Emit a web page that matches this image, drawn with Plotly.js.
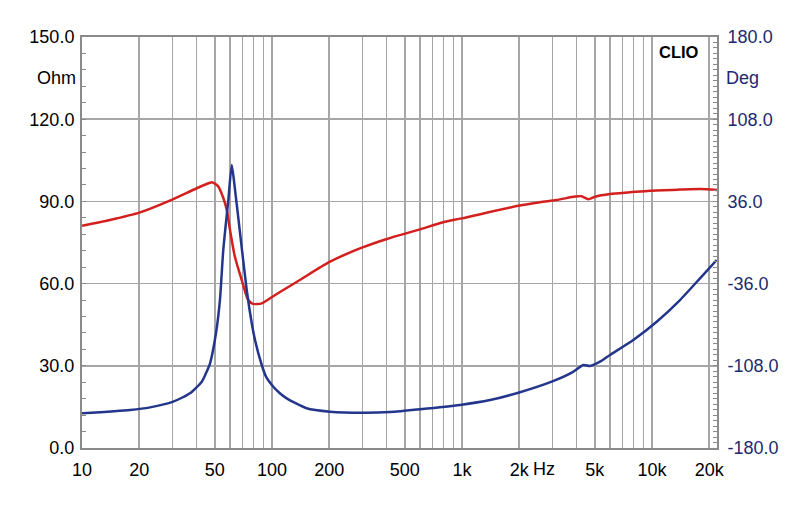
<!DOCTYPE html>
<html>
<head>
<meta charset="utf-8">
<script src="https://cdn.plot.ly/plotly-3.0.1.min.js"></script>
<style>html,body{margin:0;padding:0;background:#fff;}#chart{width:800px;height:506px;}</style>
</head>
<body>
<div id="chart"></div>
<script>
// Red curve (left axis, Ohm scale)
const redFreq = [10, 14, 20.2, 29, 40.2, 47.2, 48.2, 52, 55.2, 57.8, 60.1, 63.8, 69.3, 75, 79.4, 88.3, 100.5, 119.4, 140, 202, 297, 402, 601, 797, 996, 1979, 2574, 3150, 3933, 4250, 4624, 5012, 6012, 7656, 9750, 14000, 18000, 22000];
const redOhm  = [81.1, 83.2, 86.0, 90.3, 94.8, 96.8, 97.0, 95.6, 91.6, 86.9, 79.6, 69.8, 61.3, 54.0, 52.6, 52.8, 55.2, 58.4, 61.3, 68.0, 73.1, 76.3, 79.8, 82.4, 83.8, 88.4, 89.7, 90.5, 91.75, 91.9, 90.8, 91.7, 92.7, 93.3, 93.9, 94.3, 94.5, 94.2];

// Blue curve (right axis, Deg scale)
const blueFreq = [10, 17.9, 22.8, 30.2, 37, 42.7, 44.9, 47.2, 50.7, 53.2, 55.4, 58.9, 61.4, 63.9, 67.9, 73.6, 78.2, 81.4, 88.3, 93, 101.6, 110, 119.5, 152, 202, 302, 418, 601, 976, 1404, 1979, 2966, 3780, 4349, 4717, 5325, 6010, 7970, 10585, 14040, 17890, 21900];
const blueDeg  = [-149.6, -146.7, -144.4, -139.4, -132.1, -121.9, -114.6, -105.8, -79.5, -50.4, -6.6, 37.2, 67.9, 46.0, 8.3, -41.6, -70.5, -85.4, -107.3, -117.5, -126.3, -132.0, -136.5, -145.2, -148.2, -149.1, -148.5, -146.1, -142.3, -138.0, -131.6, -121.9, -114.0, -107.3, -108.2, -104.4, -98.5, -85.4, -69.4, -50.4, -31.4, -15.3];

// X grid / tick labels
const xTickVals = [10,20,30,40,50,60,70,80,90,100,200,300,400,500,600,700,800,900,1000,2000,3000,4000,5000,6000,7000,8000,9000,10000,20000];
const xTickText = ['10','20','','','50','','','','','100','200','','','500','','','','','1k','2k','','','5k','','','','','10k','20k'];

const yLeftTicks = [0, 30, 60, 90, 120, 150];
const yLeftText = ['0.0','30.0','60.0','90.0','120.0','150.0'];
const yRightTicks = [-180, -108, -36, 36, 108, 180];
const yRightText = ['-180.0','-108.0','-36.0','36.0','108.0','180.0'];

const FONT = 'Arial, "Liberation Sans", sans-serif';
const NAVY = '#1c2a6e';
const GRID = '#a6a6a6';
const AXIS = '#8a8a8a';

const traces = [
  {x: redFreq, y: redOhm, type: 'scatter', mode: 'lines', yaxis: 'y',
   line: {color: '#d41f1f', width: 2.5, shape: 'spline', smoothing: 0.7}, hoverinfo: 'skip'},
  {x: blueFreq, y: blueDeg, type: 'scatter', mode: 'lines', yaxis: 'y2',
   line: {color: '#23368c', width: 2.5, shape: 'spline', smoothing: 0.6}, hoverinfo: 'skip'}
];

const layout = {
  width: 800, height: 506,
  margin: {l: 82, r: 83, t: 37, b: 58},
  paper_bgcolor: '#ffffff', plot_bgcolor: '#ffffff',
  showlegend: false,
  font: {family: FONT, size: 18, color: '#000'},
  xaxis: {
    type: 'log', range: [1, 4.342],
    tickmode: 'array', tickvals: xTickVals, ticktext: xTickText,
    ticks: '', showgrid: true, gridcolor: GRID, gridwidth: 1.5,
    showline: true, linecolor: AXIS, linewidth: 2, mirror: true,
    ticklabelstandoff: 4,
    zeroline: false, tickfont: {family: FONT, size: 18, color: '#000'}
  },
  yaxis: {
    range: [0, 150], tickmode: 'array', tickvals: yLeftTicks, ticktext: yLeftText,
    ticks: 'inside', ticklen: 0, tickcolor: AXIS,
    minor: {dtick: 6, ticks: 'inside', ticklen: 4, tickcolor: AXIS, showgrid: false},
    showgrid: true, gridcolor: GRID, gridwidth: 1.5,
    showline: true, linecolor: AXIS, linewidth: 2,
    ticklabelstandoff: 2,
    zeroline: false, tickfont: {family: FONT, size: 18, color: '#000'}
  },
  yaxis2: {
    overlaying: 'y', side: 'right',
    range: [-180, 180], tickmode: 'array', tickvals: yRightTicks, ticktext: yRightText,
    ticks: 'inside', ticklen: 0, tickcolor: AXIS,
    minor: {dtick: 4.8, tick0: -180, ticks: 'inside', ticklen: 4, tickcolor: AXIS, showgrid: false},
    showgrid: false, showline: true, linecolor: AXIS, linewidth: 2,
    ticklabelstandoff: 5,
    zeroline: false, tickfont: {family: FONT, size: 18, color: NAVY}
  },
  annotations: [
    {text: 'Ohm', xref: 'paper', yref: 'y', x: 0, y: 135, xanchor: 'right', yanchor: 'middle',
     xshift: -4, showarrow: false, font: {family: FONT, size: 18, color: '#000'}},
    {text: 'Deg', xref: 'paper', yref: 'y2', x: 1, y: 144, xanchor: 'left', yanchor: 'middle',
     xshift: 7, showarrow: false, font: {family: FONT, size: 18, color: NAVY}},
    {text: 'Hz', xref: 'paper', yref: 'paper', x: 0.7276, y: 0, xanchor: 'center', yanchor: 'middle',
     yshift: -21, showarrow: false, font: {family: FONT, size: 18, color: '#000'}},
    {text: '<b>CLIO</b>', xref: 'paper', yref: 'paper', x: 0.9748, y: 0.9635, xanchor: 'right', yanchor: 'middle',
     showarrow: false, font: {family: FONT, size: 16.5, color: '#000'}}
  ]
};

Plotly.newPlot('chart', traces, layout, {displayModeBar: false, staticPlot: true});
</script>
</body>
</html>
